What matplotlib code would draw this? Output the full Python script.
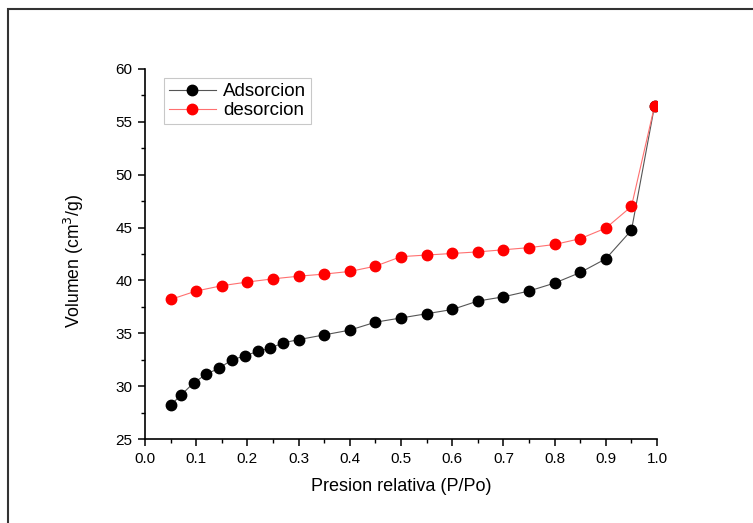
import matplotlib
matplotlib.use("Agg")
import matplotlib.pyplot as plt
from matplotlib.patches import Rectangle
from matplotlib.ticker import MultipleLocator

# adsorption branch
ads_p = [0.05, 0.07, 0.095, 0.12, 0.145, 0.17, 0.195, 0.22, 0.245, 0.27, 0.30,
         0.35, 0.40, 0.45, 0.50, 0.55, 0.60, 0.65, 0.70, 0.75, 0.80, 0.85,
         0.90, 0.95, 0.995]
ads_v = [28.2, 29.15, 30.3, 31.15, 31.7, 32.5, 32.85, 33.3, 33.6, 34.1, 34.4,
         34.85, 35.3, 36.05, 36.45, 36.85, 37.25, 38.05, 38.45, 39.0, 39.75,
         40.75, 42.05, 44.75, 56.5]

# desorption branch
des_p = [0.05, 0.10, 0.15, 0.20, 0.25, 0.30, 0.35, 0.40, 0.45, 0.50, 0.55,
         0.60, 0.65, 0.70, 0.75, 0.80, 0.85, 0.90, 0.95, 0.995]
des_v = [38.2, 39.0, 39.5, 39.85, 40.15, 40.4, 40.6, 40.85, 41.35, 42.25, 42.4,
         42.55, 42.7, 42.9, 43.1, 43.4, 43.95, 44.95, 47.0, 56.5]

plt.rcParams['font.family'] = ['Liberation Sans', 'DejaVu Sans']

fig = plt.figure(figsize=(7.53, 5.23), dpi=100)
ax = fig.add_axes([0.1926, 0.1606, 0.68, 0.7075])

# outer frame of the exported picture
fig.patches.append(Rectangle((8 / 753, -0.1), 1.2, 1.1 - 9 / 523, transform=fig.transFigure,
                             fill=False, edgecolor="#333333", linewidth=1.5))

ax.plot(ads_p, ads_v, color="#555555", linewidth=0.8, marker="o", markersize=7.5,
        markerfacecolor="black", markeredgecolor="black", label="Adsorcion")
ax.plot(des_p, des_v, color="#ff7070", linewidth=0.8, marker="o", markersize=7.5,
        markerfacecolor="red", markeredgecolor="red", label="desorcion")

ax.set_xlim(0.0, 1.0)
ax.set_ylim(25, 60)
ax.xaxis.set_major_locator(MultipleLocator(0.1))
ax.xaxis.set_minor_locator(MultipleLocator(0.05))
ax.yaxis.set_major_locator(MultipleLocator(5))
ax.yaxis.set_minor_locator(MultipleLocator(2.5))
ax.xaxis.set_major_formatter(matplotlib.ticker.FormatStrFormatter("%.1f"))

for side in ["top", "right"]:
    ax.spines[side].set_visible(False)
for side in ["left", "bottom"]:
    ax.spines[side].set_linewidth(1.2)

ax.tick_params(which="major", direction="out", length=5, width=1.1, labelsize=11, pad=4)
ax.tick_params(which="minor", direction="out", length=3, width=1.0)

ax.set_xlabel("Presion relativa (P/Po)", fontsize=13, labelpad=9)
ax.set_ylabel("Volumen (cm$^3$/g)", fontsize=12.7)
ax.yaxis.set_label_coords(-0.115, 0.48)

leg = ax.legend(loc="upper left", bbox_to_anchor=(0.03, 0.985), fontsize=13.5, fancybox=False,
                handlelength=2.5, borderpad=0.25, labelspacing=0.1, handletextpad=0.4,
                borderaxespad=0.2)
leg.get_frame().set_edgecolor("#bbbbbb")
leg.get_frame().set_linewidth(0.8)

fig.savefig("out.png", dpi=100)
